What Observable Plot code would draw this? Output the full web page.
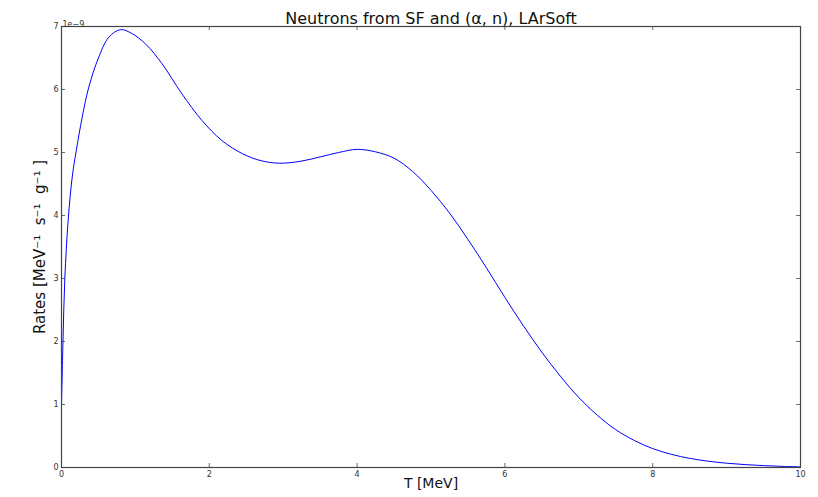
<!DOCTYPE html>
<html>
<head>
<meta charset="utf-8">
<script src="https://cdn.jsdelivr.net/npm/d3@7"></script>
<script src="https://cdn.jsdelivr.net/npm/@observablehq/plot@0.6"></script>
<style>
  html, body { margin: 0; padding: 0; background: #fff; }
  svg { display: block; }
</style>
</head>
<body>
<div id="chart"></div>
<script>
// Kinetic energy T [MeV]
const energy = [0, 0.02, 0.045, 0.09, 0.145, 0.2, 0.28, 0.37, 0.5, 0.64, 0.8, 0.95, 1.14, 1.36, 1.63, 1.9, 2.17, 2.45, 2.7, 2.95, 3.23, 3.5, 3.75, 4.0, 4.25, 4.5, 4.75, 5.0, 5.25, 5.5, 5.75, 6.0, 6.25, 6.5, 6.75, 7.0, 7.25, 7.5, 7.75, 8.0, 8.25, 8.5, 8.75, 9.0, 9.25, 9.5, 9.75, 10];
// Rates in units of 1e-9 MeV^-1 s^-1 g^-1
const rates = [1.0, 2.0, 3.0, 3.92, 4.61, 5.03, 5.56, 6.04, 6.5, 6.83, 6.95, 6.89, 6.72, 6.41, 5.93, 5.51, 5.19, 4.98, 4.87, 4.83, 4.86, 4.93, 5.0, 5.05, 5.01, 4.91, 4.70, 4.40, 4.04, 3.62, 3.17, 2.70, 2.25, 1.83, 1.45, 1.11, 0.83, 0.60, 0.43, 0.30, 0.21, 0.145, 0.10, 0.068, 0.046, 0.03, 0.018, 0.01];
const xTicks = [0, 2, 4, 6, 8, 10];
const yTicks = [0, 1, 2, 3, 4, 5, 6, 7];
const titleText = "Neutrons from SF and (α, n), LArSoft";
const xLabel = "T [MeV]";
const yLabel = "Rates [MeV⁻¹  s⁻¹  g⁻¹ ]";
const offsetText = "1e−9";

const data = energy.map((t, i) => ({t, r: rates[i]}));

const W = 818, H = 497;
const mT = 26, mR = 18, mB = 30, mL = 61;
const xMax = 10, yMax = 7;
const tickPx = 4;
const tx = tickPx * xMax / (W - mL - mR);
const ty = tickPx * yMax / (H - mT - mB);
const axisColor = "#444";

const chart = Plot.plot({
  width: W,
  height: H,
  marginTop: mT, marginRight: mR, marginBottom: mB, marginLeft: mL,
  style: {fontFamily: "DejaVu Sans", color: "#333", background: "#fff"},
  x: {domain: [0, xMax]},
  y: {domain: [0, yMax]},
  marks: [
    Plot.axisX({ticks: xTicks, tickSize: 0, tickPadding: 4, fontSize: 8, label: null, tickFormat: d => String(d)}),
    Plot.axisY({ticks: yTicks, tickSize: 0, tickPadding: 3, fontSize: 8, label: null, tickFormat: d => String(d)}),
    Plot.ruleX(xTicks, {x: d => d, y1: 0, y2: ty, stroke: axisColor, strokeWidth: 0.8}),
    Plot.ruleX(xTicks, {x: d => d, y1: yMax - ty, y2: yMax, stroke: axisColor, strokeWidth: 0.8}),
    Plot.ruleY(yTicks, {y: d => d, x1: 0, x2: tx, stroke: axisColor, strokeWidth: 0.8}),
    Plot.ruleY(yTicks, {y: d => d, x1: xMax - tx, x2: xMax, stroke: axisColor, strokeWidth: 0.8}),
    Plot.line(data, {x: "t", y: "r", stroke: "#0000ff", strokeWidth: 1, curve: "catmull-rom"}),
    Plot.frame({stroke: axisColor, strokeWidth: 1.2}),
    Plot.text([titleText], {frameAnchor: "top", dy: -14, fontSize: 16, fill: "#111"}),
    Plot.text([xLabel], {frameAnchor: "bottom", dy: 20, fontSize: 14, fill: "#111"}),
    Plot.text([yLabel], {frameAnchor: "left", dx: -21, rotate: -90, textAnchor: "middle", fontSize: 15, fill: "#111"}),
    Plot.text([offsetText], {frameAnchor: "top-left", dx: 1, dy: -5, textAnchor: "start", fontSize: 8, fill: "#333"})
  ]
});
document.getElementById("chart").appendChild(chart);
</script>
</body>
</html>
